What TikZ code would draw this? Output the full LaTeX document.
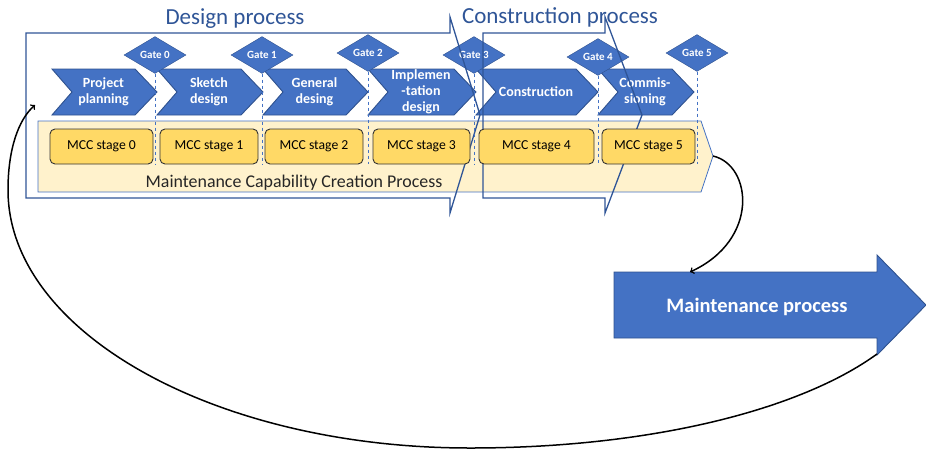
\documentclass[tikz,border=0pt]{standalone}
\usepackage{fontspec}
\setmainfont{Carlito}
\usetikzlibrary{shapes.geometric}
\definecolor{mblue}{RGB}{68,114,196}
\definecolor{dblue}{RGB}{47,82,143}
\definecolor{tblue}{RGB}{47,85,151}
\definecolor{lyellow}{RGB}{255,242,204}
\definecolor{gold}{RGB}{255,217,102}

\begin{document}
\begin{tikzpicture}[x=1pt, y=-1pt,
    chev/.style={draw=dblue, fill=mblue, line width=0.9pt},
    chevtext/.style={text=white, align=center, font=\fontsize{14}{16}\selectfont\bfseries},
    gate/.style={diamond, draw=dblue, fill=mblue, minimum width=62pt, minimum height=25pt, inner sep=0pt, text=white, font=\fontsize{11}{12}\selectfont\bfseries},
    gateline/.style={draw=mblue, dashed, line width=0.9pt},
    mcc/.style={draw=black!80, fill=gold, rounded corners=5pt, line width=0.9pt, minimum height=35pt, font=\fontsize{13.7}{16}\selectfont},
    procarrow/.style={draw=tblue, line width=1.3pt},
    title/.style={text=tblue, anchor=base, font=\fontsize{23}{28}\selectfont},
    flow/.style={->, line width=1.5pt}]
    \useasboundingbox (0,0) rectangle (926,451);

    % MCC band
    \draw[draw=mblue, fill=lyellow, line width=0.8pt] (38,121) -- (701,121) -- (713,156) -- (701,192) -- (38,192) -- cycle;
    \coordinate (bandtip) at (713,156);
    \node[anchor=base, font=\fontsize{17.9}{20}\selectfont, text=black!85] (mccp) at (294,187) {Maintenance Capability Creation Process};

    % phases
    \foreach \i/\l/\r/\t in {0/52/157/{Project\\planning}, 1/157/263/{Sketch\\design}, 2/263/368/{General\\desing},
        3/368/476/{Implemen\\-tation\\design}, 4/476/598/{Construction}, 5/598/694/{Commis-\\sioning}} {
      \draw[chev] (\l,69) -- (\r-22,69) -- (\r,92) -- (\r-22,115) -- (\l,115) -- (\l+20,92) -- cycle;
      \node[chevtext] (c\i) at ({(\l+\r-2)/2},92) {\t};
    }

    % gates
    \foreach \i/\x/\y in {0/155/55, 1/262/55, 2/368/53, 3/474/55, 4/598/57, 5/697/53}
      \node[gate] (g\i) at (\x,\y) {Gate \i};

    % design and construction process
    \draw[procarrow] (26,33) -- (450,33) -- (450,17) -- (480,115) -- (450,213) -- (450,198) -- (26,198) -- cycle;
    \draw[procarrow] (483,33) -- (605,33) -- (605,17) -- (642,115) -- (605,213) -- (605,198) -- (483,198) -- cycle;
    \node[title] (dp) at (235,24) {Design process};
    \node[title] (cp) at (560,23) {Construction process};
    \coordinate (dpin) at (35,105);

    % MCC stages
    \foreach \i/\x/\w in {0/101.5/103, 1/209/98, 2/314/98, 3/421.5/97, 4/536.5/115, 5/648.5/93}
      \node[mcc, minimum width=\w pt] (m\i) at (\x,146.5) {MCC stage \i};

    \foreach \i in {0,...,5}
      \draw[gateline] (g\i.south) -- (g\i.south |- m0.south);

    % maintenance process
    \draw[draw=dblue, fill=mblue, line width=0.9pt] (614,272) -- (877,272) -- (877,255) -- (926,305) -- (877,355) -- (877,338) -- (614,338) -- cycle;
    \node[anchor=base, text=white, font=\fontsize{20.5}{24}\selectfont\bfseries] (mp) at (757,312) {Maintenance process};
    \coordinate (mptop) at (690,272);
    \coordinate (mpbot) at (877,354);

    \draw[flow] (bandtip) .. controls (752,165) and (760,240) .. (mptop);
    \draw[flow] (mpbot) .. controls (800,410) and (650,448) .. (470,448)
        .. controls (215,448) and (8,332) .. (8,190) .. controls (8,150) and (18,120) .. (dpin);
  \end{tikzpicture}
\end{document}
